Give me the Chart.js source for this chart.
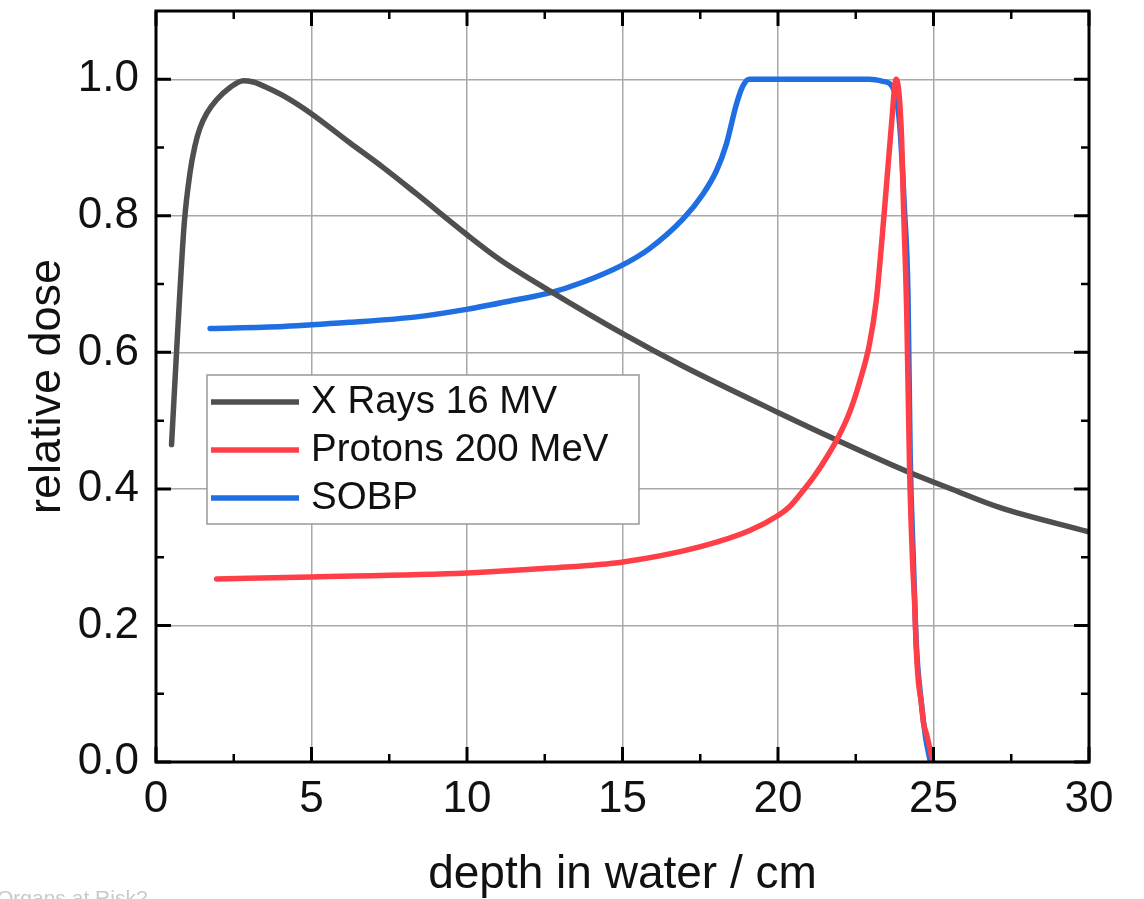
<!DOCTYPE html>
<html>
<head>
<meta charset="utf-8">
<script src="https://cdn.jsdelivr.net/npm/chart.js@4.4.1/dist/chart.umd.min.js"></script>
<style>
  html, body { margin: 0; padding: 0; background: #fff; overflow: hidden; }
  #wrap { position: relative; width: 1144px; height: 899px; }
  #note { position: absolute; left: -3px; top: 887px; font: 21px/21px "Liberation Sans", Arial, sans-serif; color: #c9c9c9; white-space: nowrap; }
</style>
</head>
<body>
<div id="wrap">
  <canvas id="doseChart" width="1144" height="899"></canvas>
  <div id="note">Organs at Risk?</div>
</div>
<script>
// depth in water (cm) and relative dose
const xrayDepth = [0.5, 0.66, 0.77, 0.91, 1.09, 1.25, 1.41, 1.63, 1.95, 2.38, 2.81, 3.13, 3.56, 4.09, 4.95, 6.23, 7.3, 8.38, 9.98, 11.05, 12.66, 15.02, 16.94, 20, 21.87, 24.23, 25.51, 27.12, 30];
const xrayDose  = [0.465, 0.600, 0.690, 0.790, 0.862, 0.902, 0.928, 0.950, 0.970, 0.988, 0.998, 0.996, 0.988, 0.976, 0.951, 0.907, 0.871, 0.832, 0.773, 0.736, 0.690, 0.627, 0.580, 0.512, 0.472, 0.424, 0.401, 0.373, 0.337];

const protonDepth = [1.95, 5, 10, 12.66, 15.02, 17.48, 19.09, 20.0, 20.37, 20.8, 21.2, 21.6, 21.96, 22.3, 22.62, 22.94, 23.16, 23.42, 23.64, 23.8, 23.96, 24.04, 24.14, 24.23, 24.33, 24.39, 24.44, 24.52, 24.6, 24.68, 24.78, 24.98];
const protonDose  = [0.268, 0.271, 0.277, 0.284, 0.293, 0.315, 0.339, 0.361, 0.374, 0.397, 0.421, 0.449, 0.478, 0.512, 0.556, 0.612, 0.676, 0.807, 0.929, 1.0, 0.929, 0.807, 0.656, 0.43, 0.29, 0.237, 0.17, 0.115, 0.09, 0.057, 0.04, 0.0];

const sobpDepth = [1.74, 4.09, 6.23, 8.38, 9.98, 11.59, 12.66, 13.74, 14.96, 15.87, 16.94, 17.59, 18.02, 18.34, 18.66, 18.87, 19.08, 21, 22.94, 23.37, 23.69, 23.91, 24.07, 24.18, 24.25, 24.35, 24.45, 24.6, 24.75, 24.9];
const sobpDose  = [0.635, 0.638, 0.644, 0.652, 0.663, 0.677, 0.687, 0.703, 0.727, 0.752, 0.795, 0.832, 0.866, 0.905, 0.963, 0.990, 1.0, 1.0, 1.0, 0.997, 0.988, 0.935, 0.807, 0.685, 0.45, 0.30, 0.17, 0.09, 0.035, 0.0];

const seriesLabels = ['X Rays 16 MV', 'Protons 200 MeV', 'SOBP'];

const xTicks = [0, 5, 10, 15, 20, 25, 30];
const xMinorTicks = [2.5, 7.5, 12.5, 17.5, 22.5, 27.5];
const yTicks = [0, 0.2, 0.4, 0.6, 0.8, 1.0];
const yMinorTicks = [0.1, 0.3, 0.5, 0.7, 0.9];

const FONT = '"Liberation Sans", Arial, sans-serif';
const TEXT = '#111';

function toPoints(xs, ys) {
	return xs.map(function(x, i) { return { x: x, y: ys[i] }; });
}

// frame with inward ticks on all four sides
const framePlugin = {
	id: 'frame',
	afterDatasetsDraw(chart) {
		const ctx = chart.ctx;
		const a = chart.chartArea;
		const sx = chart.scales.x;
		const sy = chart.scales.y;
		ctx.save();
		ctx.strokeStyle = '#000';
		function xTick(v, len, w) {
			const px = sx.getPixelForValue(v);
			ctx.lineWidth = w;
			ctx.beginPath();
			ctx.moveTo(px, a.bottom); ctx.lineTo(px, a.bottom - len);
			ctx.moveTo(px, a.top); ctx.lineTo(px, a.top + len);
			ctx.stroke();
		}
		function yTick(v, len, w) {
			const py = sy.getPixelForValue(v);
			ctx.lineWidth = w;
			ctx.beginPath();
			ctx.moveTo(a.left, py); ctx.lineTo(a.left + len, py);
			ctx.moveTo(a.right, py); ctx.lineTo(a.right - len, py);
			ctx.stroke();
		}
		xTicks.forEach(function(v) { xTick(v, 15, 3); });
		xMinorTicks.forEach(function(v) { xTick(v, 8, 2.5); });
		yTicks.forEach(function(v) { yTick(v, 15, 3); });
		yMinorTicks.forEach(function(v) { yTick(v, 8, 2.5); });
		ctx.lineWidth = 3;
		ctx.strokeRect(a.left, a.top, a.right - a.left, a.bottom - a.top);
		ctx.restore();
	}
};

// boxed legend inside the plot
const boxLegendPlugin = {
	id: 'boxLegend',
	afterDraw(chart, args, opts) {
		const ctx = chart.ctx;
		ctx.save();
		ctx.fillStyle = '#fff';
		ctx.fillRect(opts.left, opts.top, opts.width, opts.height);
		ctx.strokeStyle = '#999';
		ctx.lineWidth = 1.5;
		ctx.strokeRect(opts.left, opts.top, opts.width, opts.height);
		ctx.font = opts.fontSize + 'px ' + FONT;
		ctx.textBaseline = 'middle';
		ctx.textAlign = 'left';
		chart.data.datasets.forEach(function(ds, i) {
			const y = opts.firstRow + i * opts.rowGap;
			ctx.strokeStyle = ds.borderColor;
			ctx.lineWidth = ds.borderWidth;
			ctx.beginPath();
			ctx.moveTo(opts.left + 4, y);
			ctx.lineTo(opts.left + 4 + opts.lineLen, y);
			ctx.stroke();
			ctx.fillStyle = TEXT;
			ctx.fillText(ds.label, opts.left + opts.textX, y);
		});
		ctx.restore();
	}
};

document.addEventListener('DOMContentLoaded', function() {
	const ctx = document.getElementById('doseChart').getContext('2d');
	new Chart(ctx, {
		type: 'line',
		data: {
			datasets: [{
				label: seriesLabels[0],
				data: toPoints(xrayDepth, xrayDose),
				borderColor: '#4f4f4f',
				borderWidth: 5.5,
				order: 1
			}, {
				label: seriesLabels[1],
				data: toPoints(protonDepth, protonDose),
				borderColor: '#ff3f48',
				borderWidth: 5.5,
				order: 0
			}, {
				label: seriesLabels[2],
				data: toPoints(sobpDepth, sobpDose),
				borderColor: '#1f6fe3',
				borderWidth: 5.5,
				order: 2
			}]
		},
		options: {
			responsive: false,
			animation: false,
			layout: { padding: { top: 11, right: 55, left: 0, bottom: 0 } },
			elements: {
				point: { radius: 0 },
				line: { cubicInterpolationMode: 'monotone', borderCapStyle: 'round', borderJoinStyle: 'round' }
			},
			scales: {
				x: {
					type: 'linear',
					min: 0,
					max: 30,
					afterBuildTicks: function(axis) { axis.ticks = xTicks.map(function(v) { return { value: v }; }); },
					afterFit: function(axis) { axis.height = 137; axis.paddingLeft = 0; axis.paddingRight = 0; },
					ticks: { font: { family: FONT, size: 44 }, color: TEXT, padding: 11, maxRotation: 0 },
					grid: { color: '#a8a8a8', lineWidth: 1.5, drawTicks: false },
					border: { display: false },
					title: { display: true, text: 'depth in water / cm', font: { family: FONT, size: 46, lineHeight: 1 }, color: TEXT, padding: { top: 0, bottom: 1 } }
				},
				y: {
					type: 'linear',
					min: 0,
					max: 1.1,
					afterBuildTicks: function(axis) { axis.ticks = yTicks.map(function(v) { return { value: v }; }); },
					afterFit: function(axis) { axis.width = 156; axis.paddingTop = 0; axis.paddingBottom = 0; },
					ticks: { font: { family: FONT, size: 44 }, color: TEXT, padding: 17, callback: function(v) { return v.toFixed(1); } },
					grid: { color: '#a8a8a8', lineWidth: 1.5, drawTicks: false },
					border: { display: false },
					title: { display: true, text: 'relative dose', font: { family: FONT, size: 45 }, color: TEXT, padding: { top: 21, bottom: 0 } }
				}
			},
			plugins: {
				legend: { display: false },
				tooltip: { enabled: false },
				boxLegend: { left: 207, top: 375, width: 432, height: 149, firstRow: 402, rowGap: 48, lineLen: 88, textX: 104, fontSize: 38.5 }
			}
		},
		plugins: [framePlugin, boxLegendPlugin]
	});
});
</script>
</body>
</html>
